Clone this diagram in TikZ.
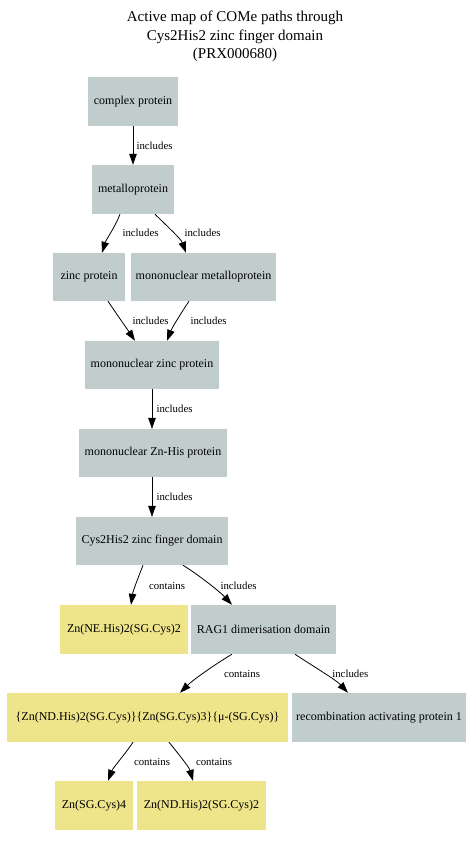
\documentclass[tikz,border=0pt]{standalone}
\usepackage{fontspec}
\setmainfont{Liberation Serif}
\usetikzlibrary{arrows.meta}
\definecolor{boxgray}{HTML}{C1CDCD}
\definecolor{boxkhaki}{HTML}{EEE58B}
\tikzset{
  x=1pt, y=-1pt,
  gbox/.style={fill=boxgray, draw=none, inner sep=0pt, font=\fontsize{12}{14}\selectfont},
  kbox/.style={fill=boxkhaki, draw=none, inner sep=0pt, font=\fontsize{12}{14}\selectfont},
  elabel/.style={inner sep=0pt, font=\fontsize{10.8}{12}\selectfont},
  conn/.style={line width=0.8pt, -{Triangle[length=11pt,width=7.5pt]}},
}
\begin{document}
\begin{tikzpicture}
\useasboundingbox (0,0) rectangle (470,846);
\node[align=center, font=\fontsize{15}{18.5}\selectfont] (title) at (235,36.5) {Active map of COMe paths through\\Cys2His2 zinc finger domain\\(PRX000680)};

\node[gbox, minimum width=90pt, minimum height=49pt] (cp) at (133,101.5) {complex protein};
\node[gbox, minimum width=82pt, minimum height=49pt] (mp) at (133,189.5) {metalloprotein};
\node[gbox, minimum width=72pt, minimum height=48pt] (zp) at (89,277) {zinc protein};
\node[gbox, minimum width=145pt, minimum height=48pt] (mmp) at (203.5,277) {mononuclear metalloprotein};
\node[gbox, minimum width=134pt, minimum height=48pt] (mzp) at (152,365) {mononuclear zinc protein};
\node[gbox, minimum width=148pt, minimum height=48pt] (mzh) at (153,453) {mononuclear Zn-His protein};
\node[gbox, minimum width=152pt, minimum height=48pt] (czf) at (152,541) {Cys2His2 zinc finger domain};
\node[kbox, minimum width=128pt, minimum height=49pt] (zne) at (124,629.5) {Zn(NE.His)2(SG.Cys)2};
\node[gbox, minimum width=145pt, minimum height=49pt] (rag) at (263.5,629.5) {RAG1 dimerisation domain};
\node[kbox, minimum width=281pt, minimum height=49pt] (zzz) at (147.5,717.5) {\{Zn(ND.His)2(SG.Cys)\}\{Zn(SG.Cys)3\}\{μ-(SG.Cys)\}};
\node[gbox, minimum width=174pt, minimum height=49pt] (rap) at (379,717.5) {recombination activating protein 1};
\node[kbox, minimum width=78pt, minimum height=49pt] (zs4) at (94,805.5) {Zn(SG.Cys)4};
\node[kbox, minimum width=129pt, minimum height=49pt] (znd) at (201.5,805.5) {Zn(ND.His)2(SG.Cys)2};

\draw[conn] (cp.south) -- (mp.north);
\draw[conn] ([xshift=-13pt]mp.south) .. controls +(-5,13) and +(4,-13) .. ([xshift=13pt]zp.north);
\draw[conn] ([xshift=22pt]mp.south) .. controls +(10,10) and +(-5,-14) .. ([xshift=-17.5pt]mmp.north);
\draw[conn] ([xshift=19pt]zp.south) .. controls +(8,12) and +(-8,-12) .. ([xshift=-17pt]mzp.north);
\draw[conn] ([xshift=-14.5pt]mmp.south) .. controls +(-8,12) and +(5,-13) .. ([xshift=15pt]mzp.north);
\draw[conn] (mzp.south) -- (mzp.south |- mzh.north);
\draw[conn] ([xshift=-1pt]mzh.south) -- ([xshift=-1pt]mzh.south |- czf.north);
\draw[conn] ([xshift=-9pt]czf.south) .. controls +(-5,13) and +(2,-14) .. ([xshift=7pt]zne.north);
\draw[conn] ([xshift=31pt]czf.south) .. controls +(16,10) and +(-12,-13) .. ([xshift=-31.5pt]rag.north);
\draw[conn] ([xshift=-31.5pt]rag.south) .. controls +(-20,12) and +(12,-12) .. ([xshift=32.5pt]zzz.north);
\draw[conn] ([xshift=31.5pt]rag.south) .. controls +(18,12) and +(-12,-13) .. ([xshift=-31pt]rap.north);
\draw[conn] ([xshift=-14.5pt]zzz.south) .. controls +(-8,12) and +(5,-13) .. ([xshift=14pt]zs4.north);
\draw[conn] ([xshift=21.5pt]zzz.south) .. controls +(8,10) and +(-4,-14) .. ([xshift=-8.5pt]znd.north);

\node[elabel] (l1) at (154.5,146) {includes};
\node[elabel] (l2) at (140.5,233) {includes};
\node[elabel] (l3) at (202.5,233) {includes};
\node[elabel] (l4) at (150.5,321) {includes};
\node[elabel] (l5) at (208.5,321) {includes};
\node[elabel] (l6) at (174.5,409) {includes};
\node[elabel] (l7) at (174.5,497) {includes};
\node[elabel] (l8) at (167,586) {contains};
\node[elabel] (l9) at (238.5,586) {includes};
\node[elabel] (l10) at (242,673.5) {contains};
\node[elabel] (l11) at (350.3,673.5) {includes};
\node[elabel] (l12) at (152,762) {contains};
\node[elabel] (l13) at (214,762) {contains};
\end{tikzpicture}
\end{document}
